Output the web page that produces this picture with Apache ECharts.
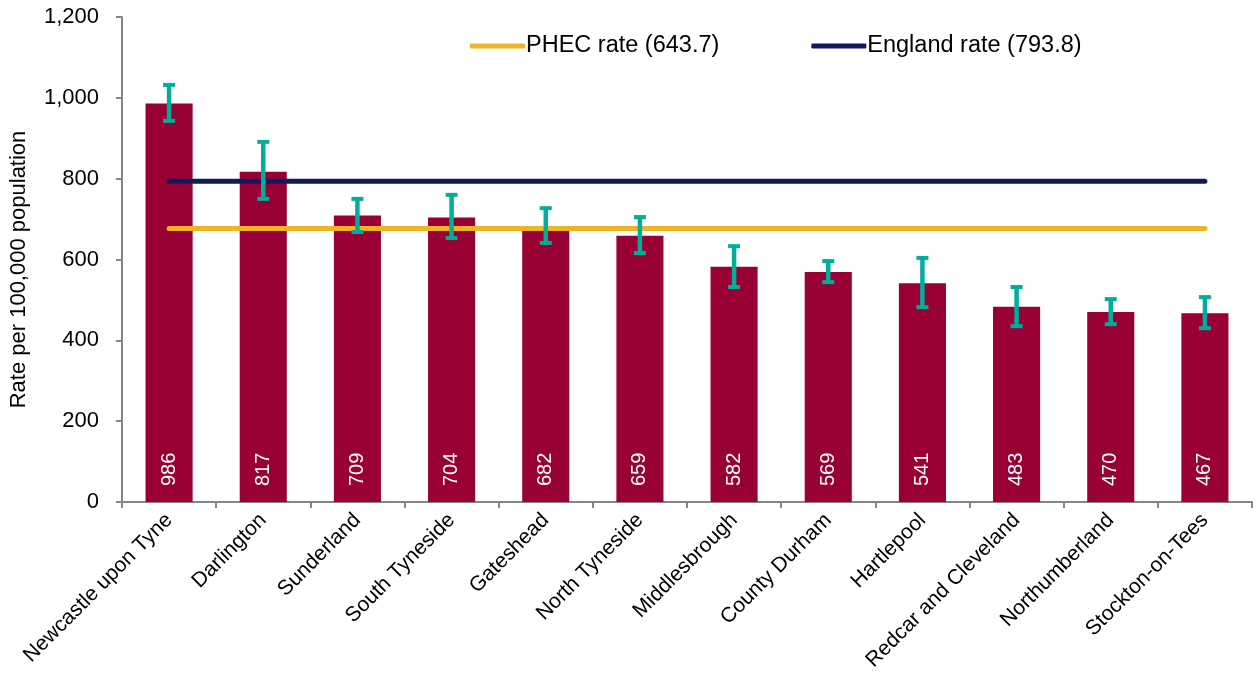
<!DOCTYPE html>
<html><head><meta charset="utf-8">
<script src="https://cdn.jsdelivr.net/npm/echarts@6/dist/echarts.min.js"></script>
<style>html,body{margin:0;padding:0;background:#fff}#c{width:1258px;height:677px}</style>
</head><body><div id="c"></div>
<script>
const categories = ["Newcastle upon Tyne","Darlington","Sunderland","South Tyneside","Gateshead","North Tyneside","Middlesbrough","County Durham","Hartlepool","Redcar and Cleveland","Northumberland","Stockton-on-Tees"];
const rates = [986,817,709,704,682,659,582,569,541,483,470,467];
const lowerCI = [943,750,668,653,641,616,532,544,482,435,440,430];
const upperCI = [1032,891,750,760,727,705,633,596,604,532,502,507];
const phecRate = 677;
const englandRate = 793.8;
const phecLabel = "PHEC rate (643.7)";
const englandLabel = "England rate (793.8)";
const yTicks = {min:0, max:1200, interval:200};

const font = "Liberation Sans, Arial, sans-serif";
const chart = echarts.init(document.getElementById('c'), null, {renderer:'canvas'});
chart.setOption({
  animation:false,
  textStyle:{fontFamily:font},
  grid:{left:121, right:6, top:17, bottom:175, containLabel:false},
  legend:{
    top:29, left:465, itemGap:92, itemWidth:55, itemHeight:5, icon:'roundRect',
    textStyle:{fontSize:23.5, color:'#000', fontFamily:font, padding:[0,0,0,-4]},
    data:[phecLabel, englandLabel]
  },
  xAxis:{
    type:'category', data:categories,
    axisLine:{lineStyle:{color:'#868686', width:2}},
    axisTick:{show:true, length:6, lineStyle:{color:'#868686', width:2}},
    axisLabel:{rotate:45, fontSize:21, color:'#000', fontFamily:font, margin:15, interval:0}
  },
  yAxis:{
    type:'value', min:yTicks.min, max:yTicks.max, interval:yTicks.interval,
    name:'Rate per 100,000 population', nameLocation:'middle', nameGap:92, nameRotate:90,
    nameTextStyle:{fontSize:22, color:'#000', fontFamily:font, padding:[0,20,0,0]},
    axisLine:{show:true, lineStyle:{color:'#868686', width:2}},
    axisTick:{show:true, length:6, lineStyle:{color:'#868686', width:2}},
    splitLine:{show:false},
    axisLabel:{fontSize:22, color:'#000', fontFamily:font, margin:23,
      formatter:v=>v.toLocaleString('en-GB')}
  },
  series:[
    {type:'bar', data:rates, barWidth:'50%', itemStyle:{color:'#990033'},
     label:{show:true, position:'insideBottom', rotate:90, align:'left', verticalAlign:'middle',
       distance:16, color:'#fff', fontSize:20, fontFamily:font}, z:2},
    {type:'custom', name:'CI', z:5,
     renderItem:function(params, api){
       const i = api.value(0);
       const lo = api.coord([i, api.value(1)]);
       const hi = api.coord([i, api.value(2)]);
       const w = 6;
       const stem = {stroke:'#00AE9A', lineWidth:4.5};
       const cap = {stroke:'#00AE9A', lineWidth:4};
       return {type:'group', children:[
         {type:'line', shape:{x1:lo[0], y1:lo[1], x2:hi[0], y2:hi[1]}, style:stem},
         {type:'line', shape:{x1:lo[0]-w, y1:lo[1], x2:lo[0]+w, y2:lo[1]}, style:cap},
         {type:'line', shape:{x1:hi[0]-w, y1:hi[1], x2:hi[0]+w, y2:hi[1]}, style:cap}
       ]};
     },
     data:categories.map((c,i)=>[i, lowerCI[i], upperCI[i]])
    },
    {type:'line', name:phecLabel, data:categories.map(()=>phecRate), symbol:'none', z:4,
     itemStyle:{color:'#F0B323'}, lineStyle:{color:'#F0B323', width:5, cap:'round'}},
    {type:'line', name:englandLabel, data:categories.map(()=>englandRate), symbol:'none', z:4,
     itemStyle:{color:'#13175C'}, lineStyle:{color:'#13175C', width:5, cap:'round'}}
  ]
});
</script></body></html>
